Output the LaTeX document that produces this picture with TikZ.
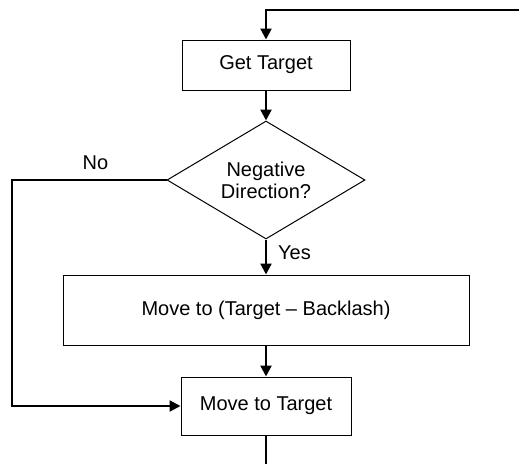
\documentclass[tikz,border=0pt]{standalone}
\usepackage{fontspec}
\setmainfont{Liberation Sans}
\usetikzlibrary{shapes.geometric,arrows.meta}
\begin{document}
\begin{tikzpicture}[x=1pt,y=-1pt,
  font=\fontsize{20}{23}\selectfont,
  stepbox/.style={draw, line width=1pt, rectangle, inner sep=0pt, align=center},
  decision/.style={draw, line width=1pt, diamond, aspect=1.678, inner sep=0pt,
    minimum width=198pt, minimum height=118pt, align=center},
  flow/.style={line width=2.3pt},
  flowarrow/.style={flow, -{Triangle[length=11pt,width=11pt]}},
  lbl/.style={inner sep=0pt}
]
\useasboundingbox (0,0) rectangle (519,464);

\node[stepbox, minimum width=168pt, minimum height=50pt] (get) at (266,65) {Get Target};
\node[decision] (dir) at (266,180) {Negative\\[-1pt]Direction?};
\node[stepbox, minimum width=406pt, minimum height=70pt] (back) at (266,310) {Move to (Target -- Backlash)};
\node[stepbox, minimum width=170pt, minimum height=58pt] (tgt) at (266,406) {Move to Target};

\coordinate (loopin) at (519,10);
\coordinate (exit) at (266,464);

\node[lbl, anchor=base] (no) at (95.5,169) {No};
\node[lbl, anchor=base west] (yes) at (278,259) {Yes};

\draw[flowarrow] (loopin) -- (get.north |- loopin) -- (get.north);
\draw[flowarrow] (get.south) -- (dir.north);
\draw[flowarrow] (dir.south) -- (back.north);
\draw[flowarrow] (back.south) -- (tgt.north);
\draw[flowarrow] (dir.west) -- (12,180) -- (12,406) -- (tgt.west);
\draw[flow] (tgt.south) -- (exit);
\end{tikzpicture}
\end{document}
